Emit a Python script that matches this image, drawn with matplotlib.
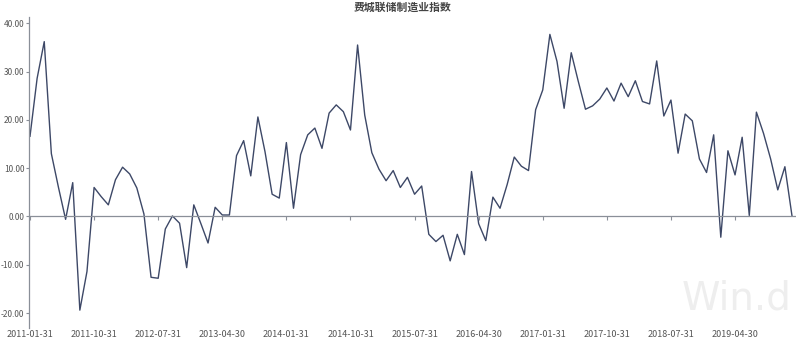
import numpy as np
import pandas as pd
import matplotlib
matplotlib.use("Agg")
import matplotlib.pyplot as plt

plt.rcParams['font.family'] = ['Noto Sans CJK SC', 'DejaVu Sans']

title = "费城联储制造业指数"
dates = pd.date_range("2011-01-31", periods=108, freq="ME")
values = [
    16.6, 28.6, 36.2, 13.0, 6.0, -0.6, 7.0, -19.4, -11.4, 6.0, 4.1, 2.4,
    7.6, 10.2, 8.8, 5.9, 0.5, -12.6, -12.8, -2.6, 0.1, -1.4, -10.6, 2.4,
    -1.5, -5.5, 1.9, 0.3, 0.3, 12.6, 15.7, 8.4, 20.6, 13.4, 4.6, 3.8,
    15.3, 1.7, 12.8, 16.9, 18.3, 14.1, 21.4, 23.1, 21.7, 17.9, 35.5, 21.0,
    13.2, 9.8, 7.4, 9.5, 6.0, 8.1, 4.6, 6.3, -3.7, -5.2, -3.9, -9.2,
    -3.7, -7.9, 9.3, -1.5, -5.0, 4.0, 1.7, 6.6, 12.3, 10.4, 9.5, 22.1,
    26.2, 37.7, 32.1, 22.4, 33.9, 27.9, 22.2, 22.9, 24.3, 26.6, 23.9, 27.6,
    24.8, 28.1, 23.8, 23.3, 32.2, 20.8, 24.1, 13.1, 21.2, 19.8, 11.9, 9.1,
    16.9, -4.3, 13.6, 8.6, 16.4, 0.2, 21.6, 17.2, 11.9, 5.5, 10.3, 0.1,
]
tick_idx = list(range(0, 108, 9))
tick_labels = [dates[i].strftime("%Y-%m-%d") for i in tick_idx]
yticks = [-20, -10, 0, 10, 20, 30, 40]

W, H, DPI = 796, 343, 100
fig = plt.figure(figsize=(W / DPI, H / DPI), dpi=DPI)
ax = fig.add_axes([29 / W, 1 - 328 / H, 1 - 29 / W, (328 - 17) / H])

fig.text(737 / W, 1 - 299 / H, "Win.d", ha="center", va="center",
         fontsize=28, color="#eeeeee", family="DejaVu Sans", zorder=0)
ax.patch.set_alpha(0)

x = np.arange(len(values))
ax.plot(x, values, color="#3d4867", lw=1.0)

ax.set_xlim(-0.14, 107.56)
ax.set_ylim(-23.1, 41.3)

for s in ["top", "right"]:
    ax.spines[s].set_visible(False)
ax.spines["bottom"].set_position(("data", 0))
ax.spines["bottom"].set_color("#8a8f98")
ax.spines["left"].set_color("#8a8f98")
ax.spines["bottom"].set_linewidth(0.9)
ax.spines["left"].set_linewidth(0.9)

ax.set_xticks(tick_idx)
ax.set_xticklabels(tick_labels)
ax.set_yticks(yticks)
ax.set_yticklabels([f"{v:.2f}" for v in yticks])

zero_px = 216.5
label_top_px = 328.5
pad_pt = (label_top_px - zero_px - 3) / DPI * 72
ax.tick_params(axis="x", length=3, width=0.8, color="#8a8f98", pad=pad_pt,
               labelsize=6.5, labelcolor="#555555")
ax.tick_params(axis="y", length=2.5, width=0.8, color="#8a8f98", pad=0.8,
               labelsize=6.0, labelcolor="#555555")

fig.text(403 / W, 1 - 8 / H, title, ha="center", va="center",
         fontsize=7.8, fontweight="bold", color="#444444")

fig.savefig("out.png", dpi=DPI)
